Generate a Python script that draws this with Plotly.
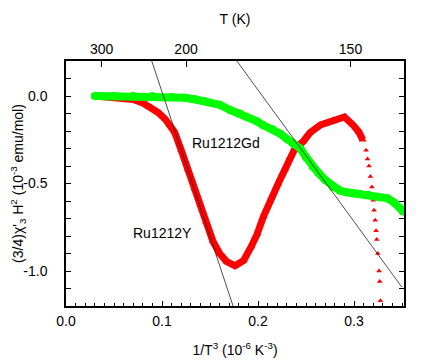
"""Nonlinear susceptibility of Ru1212Y and Ru1212Gd versus 1/T^3."""

import plotly.graph_objects as go

# Ru1212Y (red triangles): dense part of the curve
ru_y_x = [0.030, 0.040, 0.050, 0.060, 0.070, 0.080, 0.089, 0.096, 0.103, 0.108,
          0.113, 0.120, 0.127, 0.134, 0.140, 0.146, 0.153, 0.160, 0.167, 0.176,
          0.185, 0.193, 0.199, 0.2055, 0.214, 0.221, 0.228, 0.233, 0.2385, 0.247,
          0.254, 0.265, 0.278, 0.290, 0.299, 0.305, 0.309]
ru_y_val = [0.000, -0.005, -0.005, -0.010, -0.020, -0.040, -0.065, -0.095, -0.130, -0.165,
            -0.205, -0.310, -0.420, -0.530, -0.620, -0.720, -0.830, -0.900, -0.945, -0.970,
            -0.940, -0.860, -0.790, -0.690, -0.577, -0.500, -0.420, -0.350, -0.300, -0.260,
            -0.210, -0.165, -0.137, -0.120, -0.166, -0.205, -0.250]

# Ru1212Y: sparse tail below 160 K
ru_y_tail_x = [0.3125, 0.314, 0.3156, 0.317, 0.3185, 0.320, 0.3208, 0.322, 0.3229,
               0.3236, 0.3247, 0.326, 0.3267, 0.3274]
ru_y_tail_val = [-0.31, -0.36, -0.40, -0.46, -0.52, -0.596, -0.653, -0.71, -0.77,
                 -0.82, -0.90, -1.00, -1.06, -1.17]

# Ru1212Gd (green circles)
ru_gd_x = [0.030, 0.050, 0.070, 0.090, 0.110, 0.124, 0.135, 0.145, 0.160, 0.171,
           0.181, 0.188, 0.199, 0.205, 0.215, 0.223, 0.230, 0.236, 0.244, 0.250,
           0.257, 0.263, 0.270, 0.278, 0.285, 0.292, 0.300, 0.306, 0.315, 0.324,
           0.335, 0.342, 0.348, 0.351]
ru_gd_val = [0.000, 0.000, 0.000, 0.000, -0.005, -0.010, -0.020, -0.030, -0.050, -0.080,
             -0.100, -0.120, -0.145, -0.166, -0.190, -0.215, -0.245, -0.270, -0.300, -0.350,
             -0.405, -0.440, -0.480, -0.520, -0.540, -0.550, -0.555, -0.560, -0.565, -0.575,
             -0.585, -0.610, -0.640, -0.660]

# straight guide lines (end points)
fit_y_x = [0.0893, 0.174]
fit_y_val = [0.2, -1.2]
fit_gd_x = [0.178, 0.3497]
fit_gd_val = [0.2, -1.092]

# top axis temperatures
top_temps = [300, 200, 150]
top_tickvals = [1e6 / t ** 3 for t in top_temps]
top_ticktext = [str(t) for t in top_temps]

# y tick labels (plain hyphen minus, as in the figure)
y_tickvals = [0.0, -0.5, -1.0]
y_ticktext = ['0.0', '-0.5', '-1.0']

x_range = [0, 0.352]
y_range = [-1.2, 0.2]

FONT = 'Liberation Sans, Arial, sans-serif'

fig = go.Figure()

# Ru1212Y dense band
fig.add_trace(go.Scatter(
    x=ru_y_x, y=ru_y_val, mode='lines+markers',
    line=dict(color='#ff0000', width=7),
    marker=dict(symbol='triangle-up', size=7, color='#ff0000'),
    showlegend=False, hoverinfo='skip'
))
# Ru1212Y tail
fig.add_trace(go.Scatter(
    x=ru_y_tail_x, y=ru_y_tail_val, mode='markers',
    marker=dict(symbol='triangle-up', size=5, color='#ff0000'),
    showlegend=False, hoverinfo='skip'
))
# Ru1212Gd band
fig.add_trace(go.Scatter(
    x=ru_gd_x, y=ru_gd_val, mode='lines+markers',
    line=dict(color='#00ff00', width=8),
    marker=dict(symbol='circle', size=8, color='#00ff00'),
    showlegend=False, hoverinfo='skip'
))

# guide lines
for fx, fy in [(fit_y_x, fit_y_val), (fit_gd_x, fit_gd_val)]:
    fig.add_trace(go.Scatter(
        x=fx, y=fy, mode='lines',
        line=dict(color='#222222', width=0.8),
        showlegend=False, hoverinfo='skip'
    ))

# invisible trace so the top axis is drawn
fig.add_trace(go.Scatter(
    x=x_range, y=y_range, xaxis='x2', mode='markers',
    marker=dict(opacity=0), showlegend=False, hoverinfo='skip'
))

fig.add_annotation(x=0.1667, y=-0.27, text='Ru1212Gd', showarrow=False,
                   font=dict(family=FONT, size=14, color='black'))
fig.add_annotation(x=0.1005, y=-0.78, text='Ru1212Y', showarrow=False,
                   font=dict(family=FONT, size=14, color='black'))

# the page body adds an 8px margin, so the figure is 8px smaller than the window
fig.update_layout(
    width=428, height=355,
    margin=dict(l=58, r=32, t=53, b=57),
    paper_bgcolor='white', plot_bgcolor='white',
    font=dict(family=FONT, size=14, color='black'),
    xaxis=dict(
        range=x_range, dtick=0.1, tick0=0, tickformat='.1f',
        automargin=False,
        showgrid=False, zeroline=False,
        showline=True, linecolor='black', linewidth=1.5, mirror=False,
        ticks='inside', ticklen=5, tickcolor='black', tickwidth=1,
        ticklabelstandoff=1,
        minor=dict(dtick=0.01, tick0=0, ticks='inside', ticklen=3,
                   tickcolor='black', showgrid=False),
        title=dict(text='1/T<sup>3</sup> (10<sup>-6</sup> K<sup>-3</sup>)',
                   standoff=18, font=dict(size=14))
    ),
    xaxis2=dict(
        range=x_range, overlaying='x', side='top', anchor='y',
        automargin=False,
        tickmode='array', tickvals=top_tickvals, ticktext=top_ticktext,
        showgrid=False, zeroline=False,
        showline=True, linecolor='black', linewidth=1.5,
        ticks='inside', ticklen=6, tickcolor='black', tickwidth=1,
        ticklabelstandoff=0,
        title=dict(text='T (K)', standoff=13, font=dict(size=14))
    ),
    yaxis=dict(
        range=y_range, tickmode='array', tickvals=y_tickvals, ticktext=y_ticktext,
        automargin=False,
        showgrid=False, zeroline=False,
        showline=True, linecolor='black', linewidth=1.5, mirror='ticks',
        ticks='inside', ticklen=5, tickcolor='black', tickwidth=1,
        ticklabelstandoff=14,
        minor=dict(tickmode='linear', dtick=0.1, tick0=0, ticks='inside', ticklen=5,
                   tickcolor='black', showgrid=False),
        title=dict(text="(3/4)χ'<sub>3</sub> H<sup>2</sup> (10<sup>-3</sup> emu/mol)",
                   standoff=2, font=dict(size=14))
    ),
)

fig.write_html("out.html")
